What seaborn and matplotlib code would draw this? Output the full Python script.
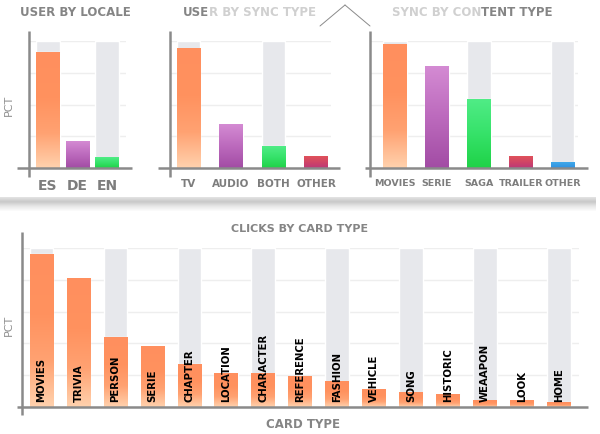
import numpy as np
import pandas as pd
import matplotlib
matplotlib.use("Agg")
import matplotlib.pyplot as plt
import seaborn as sns
from matplotlib.colors import LinearSegmentedColormap
from matplotlib.lines import Line2D

# data (percentages)
locale_labels = ["ES", "DE", "EN"]
locale_pct = [91, 21, 8]

sync_labels = ["TV", "AUDIO", "BOTH", "OTHER"]
sync_pct = [94, 34, 17, 9]

content_labels = ["MOVIES", "SERIE", "SAGA", "TRAILER", "OTHER"]
content_pct = [97, 80, 54, 9, 4]

card_labels = ["MOVIES", "TRIVIA", "PERSON", "SERIE", "CHAPTER", "LOCATION", "CHARACTER",
               "REFERENCE", "FASHION", "VEHICLE", "SONG", "HISTORIC", "WEAAPON", "LOOK", "HOME"]
card_pct = [96, 81, 44, 38, 27, 21, 21, 19, 16, 11, 9, 8, 4, 4, 3]

W, H = 600, 435
GRAY_TXT = "#858585"
AXIS_C = "#8a8a8a"
BG_BAR = "#E7E8EC"

ramps = {
    "orange": [(0, "#FFD2AE"), (0.3, "#FFA272"), (0.6, "#FF925F"), (1, "#FF8F5E")],
    "purple": [(0, "#A24CA4"), (0.5, "#BC6ABD"), (1, "#D48BD3")],
    "green": [(0, "#1FD247"), (0.5, "#36E26A"), (1, "#50EC86")],
    "red": [(0, "#BC3878"), (0.5, "#D04566"), (1, "#E0525A")],
    "blue": [(0, "#3090E0"), (1, "#40A9EA")],
}
base = {"orange": "#FF9A68", "purple": "#C070C0", "green": "#35E068", "red": "#D04566", "blue": "#389EE6"}

sns.set_theme(style="white")
plt.rcParams["font.family"] = ["DejaVu Sans"]

fig = plt.figure(figsize=(6, 4.35), dpi=100)
fig.patch.set_facecolor("white")


def fx(px):
    return px / W


def fy(py):
    return 1 - py / H


def fig_line(x0, y0, x1, y1, **kw):
    fig.add_artist(Line2D([fx(x0), fx(x1)], [fy(y0), fy(y1)], transform=fig.transFigure, **kw))


def gradient_bars(ax, patches, colors):
    grad = np.linspace(0, 1, 256).reshape(-1, 1)
    for p, c in zip(patches, colors):
        x0, y0 = p.get_x(), p.get_y()
        w, h = p.get_width(), p.get_height()
        cmap = LinearSegmentedColormap.from_list("g", ramps[c])
        ax.imshow(grad, extent=[x0, x0 + w, y0, y0 + h], origin="lower", aspect="auto",
                  cmap=cmap, zorder=p.get_zorder() + 0.1, interpolation="bilinear")


def panel(left, right, top, bottom, labels, values, colors, width, ticks, xl0, xl1,
          yax_top, yax_bot, xax_left, xax_right, tick_fs=None):
    ax = fig.add_axes([fx(left), fy(bottom), fx(right) - fx(left), fy(top) - fy(bottom)])
    n = len(labels)
    pos = np.arange(n)
    ax.bar(pos, [100 if i % 2 == 0 else 0 for i in range(n)], width=width, color=BG_BAR, zorder=1)
    nbg = len(ax.patches)
    df = pd.DataFrame({"lab": labels, "pct": values})
    sns.barplot(data=df, x="lab", y="pct", hue="lab", palette=[base[c] for c in colors],
                width=width, legend=False, ax=ax, zorder=2, saturation=1)
    gradient_bars(ax, ax.patches[nbg:], colors)
    ax.set_xlim(xl0, xl1)
    ax.set_ylim(0, 100)
    ax.set_yticks(ticks)
    ax.yaxis.grid(True, color="#EEEEEE", lw=1)
    ax.set_axisbelow(True)
    ax.set_yticklabels([])
    ax.tick_params(left=False, bottom=False, length=0)
    ax.set_xlabel("")
    ax.set_ylabel("")
    for s in ax.spines.values():
        s.set_visible(False)
    if tick_fs:
        ax.set_xticks(pos)
        ax.set_xticklabels(labels, fontsize=tick_fs, fontweight="bold", color="#7d7d7d")
        ax.tick_params(axis="x", pad=7, length=0)
    else:
        ax.set_xticks([])
    fig_line(left, yax_top, left, yax_bot, color=AXIS_C, lw=1.8, solid_capstyle="butt")
    fig_line(xax_left, bottom, xax_right, bottom, color=AXIS_C, lw=1.8, solid_capstyle="butt")
    return ax


# top row
panel(29, 125.5, 42, 169, locale_labels, locale_pct, ["orange", "purple", "green"], 0.8,
      [0, 25, 50, 75, 100], -0.64, 2.63, 32, 178, 17, 132, tick_fs=10)
panel(170, 331, 42, 169, sync_labels, sync_pct, ["orange", "purple", "green", "red"], 0.55,
      [0, 25, 50, 75, 100], -0.435, 3.35, 32, 178, 158, 340, tick_fs=7.5)
panel(370, 578, 42, 169, content_labels, content_pct, ["orange", "purple", "green", "red", "blue"], 0.56,
      [0, 25, 50, 75, 100], -0.6, 4.37, 32, 178, 365, 588, tick_fs=6.8)

# bottom chart
axb = panel(22, 579, 249, 408, card_labels, card_pct, ["orange"] * len(card_labels), 0.64,
            [0, 20, 40, 60, 80, 100], -0.53, 14.55, 233, 416, 17, 588)
for i, lab in enumerate(card_labels):
    axb.text(i, 3.8, lab, rotation=90, ha="center", va="bottom", fontsize=7.3,
             fontweight="bold", color="black", zorder=5)

# titles
TY = fy(12)
fig.text(fx(75), TY, "USER BY LOCALE", ha="center", va="center", fontsize=8.5,
         fontweight="bold", color=GRAY_TXT)
t2a = fig.text(fx(183), TY, "USE", ha="left", va="center", fontsize=8.5,
               fontweight="bold", color=GRAY_TXT)
t3a = fig.text(fx(392), TY, "SYNC BY CON", ha="left", va="center", fontsize=8.5,
               fontweight="bold", color="#D0D0D0")
fig.canvas.draw()
r = fig.canvas.get_renderer()
bb2 = t2a.get_window_extent(r)
fig.text(bb2.x1 / fig.bbox.width, TY, "R BY SYNC TYPE", ha="left", va="center", fontsize=8.5,
         fontweight="bold", color="#D0D0D0")
bb3 = t3a.get_window_extent(r)
fig.text(bb3.x1 / fig.bbox.width, TY, "TENT TYPE", ha="left", va="center", fontsize=8.5,
         fontweight="bold", color=GRAY_TXT)

fig.text(fx(300), fy(229), "CLICKS BY CARD TYPE", ha="center", va="center", fontsize=8,
         fontweight="bold", color=GRAY_TXT)
fig.text(fx(303), fy(425), "CARD TYPE", ha="center", va="center", fontsize=8.5,
         fontweight="bold", color=GRAY_TXT)
fig.text(fx(9), fy(105), "PCT", rotation=90, ha="center", va="center", fontsize=8, color="#8f8f8f")
fig.text(fx(9), fy(325), "PCT", rotation=90, ha="center", va="center", fontsize=8, color="#8f8f8f")

# little caret between the top panels
fig_line(320, 27, 345, 6, color="#8a8a8a", lw=0.7)
fig_line(345, 6, 370, 27, color="#8a8a8a", lw=0.7)

# separator shadow between the rows
sh = fig.add_axes([0, fy(212), fx(596), fy(198) - fy(212)], zorder=-1)
sh.imshow(np.linspace(0, 1, 64).reshape(-1, 1), aspect="auto",
          cmap=LinearSegmentedColormap.from_list("s", ["#E4E4E4", "#C8C8C8", "#E8E8E8", "#FCFCFC"]),
          extent=[0, 1, 0, 1])
sh.set_axis_off()

fig.savefig("out.png", dpi=100, facecolor="white")
